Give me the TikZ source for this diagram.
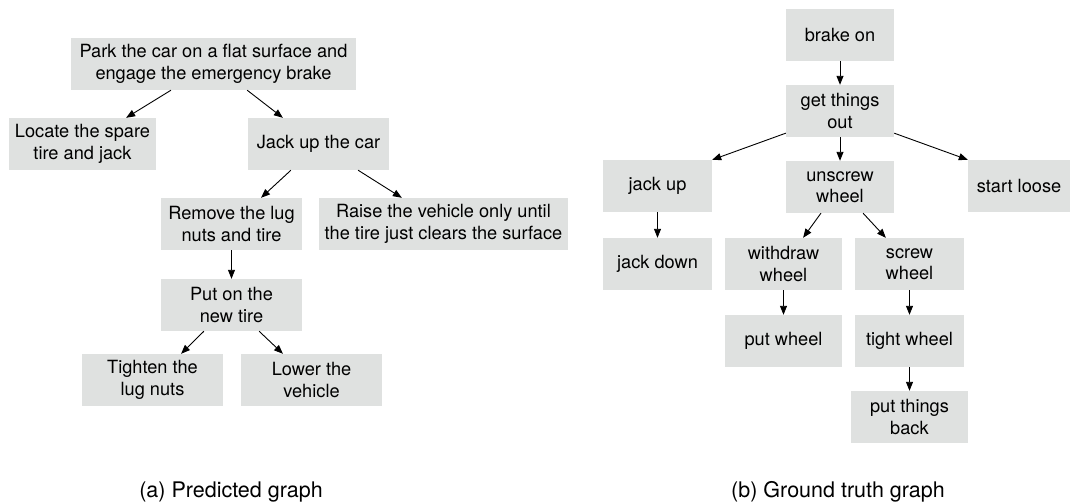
\documentclass[tikz,border=0pt]{standalone}
\usepackage{fontspec}
\setmainfont{TeX Gyre Heros}
\usetikzlibrary{arrows.meta,calc}
\definecolor{boxgray}{RGB}{223,225,224}
\tikzset{
  box/.style={rectangle, fill=boxgray, draw=none, inner sep=0pt, minimum height=52pt, align=center,
    font=\fontsize{18.2}{21.5}\selectfont},
  arr/.style={draw=black, line width=0.9pt, -{Triangle[length=9pt,width=7pt]}},
  captext/.style={anchor=base, inner sep=0pt, font=\fontsize{21.5}{25}\selectfont}
}
\begin{document}
\begin{tikzpicture}[x=1pt,y=-1pt]
\useasboundingbox (0,0) rectangle (1070,503);
% ---- (a) Predicted graph ----
\node[box, minimum width=285pt] (park) at (213.5,64) {Park the car on a flat surface and\\engage the emergency brake};
\node[box, minimum width=147pt] (locate) at (82.5,144) {Locate the spare\\tire and jack};
\node[box, minimum width=141pt] (jackcar) at (318.5,144) {Jack up the car};
\node[box, minimum width=141pt] (remove) at (231.5,224) {Remove the lug\\nuts and tire};
\node[box, minimum width=249pt] (raise) at (443.5,224) {Raise the vehicle only until\\the tire just clears the surface};
\node[box, minimum width=141pt] (puton) at (231.5,305) {Put on the\\new tire};
\node[box, minimum width=141pt] (tighten) at (152.5,380) {Tighten the\\lug nuts};
\node[box, minimum width=141pt] (lower) at (311.5,380) {Lower the\\vehicle};

\draw[arr] ($(park.south west)!0.351!(park.south east)$) -- ($(locate.north west)!0.796!(locate.north east)$);
\draw[arr] ($(park.south west)!0.618!(park.south east)$) -- ($(jackcar.north west)!0.248!(jackcar.north east)$);
\draw[arr] ($(jackcar.south west)!0.305!(jackcar.south east)$) -- ($(remove.north west)!0.709!(remove.north east)$);
\draw[arr] ($(jackcar.south west)!0.78!(jackcar.south east)$) -- ($(raise.north west)!0.333!(raise.north east)$);
\draw[arr] (remove.south) -- (puton.north);
\draw[arr] ($(puton.south west)!0.305!(puton.south east)$) -- ($(tighten.north west)!0.702!(tighten.north east)$);
\draw[arr] ($(puton.south west)!0.695!(puton.south east)$) -- ($(lower.north west)!0.298!(lower.north east)$);

\node[captext] (capa) at (231,497) {(a) Predicted graph};

% ---- (b) Ground truth graph ----
\node[box, minimum width=108pt] (brake) at (840,35) {brake on};
\node[box, minimum width=108pt] (getout) at (840,111) {get things\\out};
\node[box, minimum width=109pt] (jackup) at (657.5,186) {jack up};
\node[box, minimum width=108pt] (unscrew) at (840,187) {unscrew\\wheel};
\node[box, minimum width=102pt] (start) at (1019,186) {start loose};
\node[box, minimum width=109pt] (jackdown) at (657.5,264) {jack down};
\node[box, minimum width=117pt] (withdraw) at (783.5,264) {withdraw\\wheel};
\node[box, minimum width=109pt] (screw) at (909.5,264) {screw\\wheel};
\node[box, minimum width=117pt] (putwheel) at (783.5,341) {put wheel};
\node[box, minimum width=109pt] (tight) at (909.5,341) {tight wheel};
\node[box, minimum width=117pt] (putback) at (909.5,417) {put things\\back};

\draw[arr] (brake.south) -- (getout.north);
\draw[arr] ($(getout.west)!0.846!(getout.south west)$) -- (jackup.north east);
\draw[arr] (getout.south) -- (unscrew.north);
\draw[arr] ($(getout.east)!0.846!(getout.south east)$) -- (start.north west);
\draw[arr] (jackup.south) -- (jackdown.north);
\draw[arr] ($(unscrew.south west)!0.324!(unscrew.south east)$) -- ($(withdraw.north west)!0.667!(withdraw.north east)$);
\draw[arr] ($(unscrew.south west)!0.713!(unscrew.south east)$) -- ($(screw.north west)!0.284!(screw.north east)$);
\draw[arr] (withdraw.south) -- (putwheel.north);
\draw[arr] (screw.south) -- (tight.north);
\draw[arr] (tight.south) -- (putback.north);

\node[captext] (capb) at (838,497) {(b) Ground truth graph};
\end{tikzpicture}
\end{document}
